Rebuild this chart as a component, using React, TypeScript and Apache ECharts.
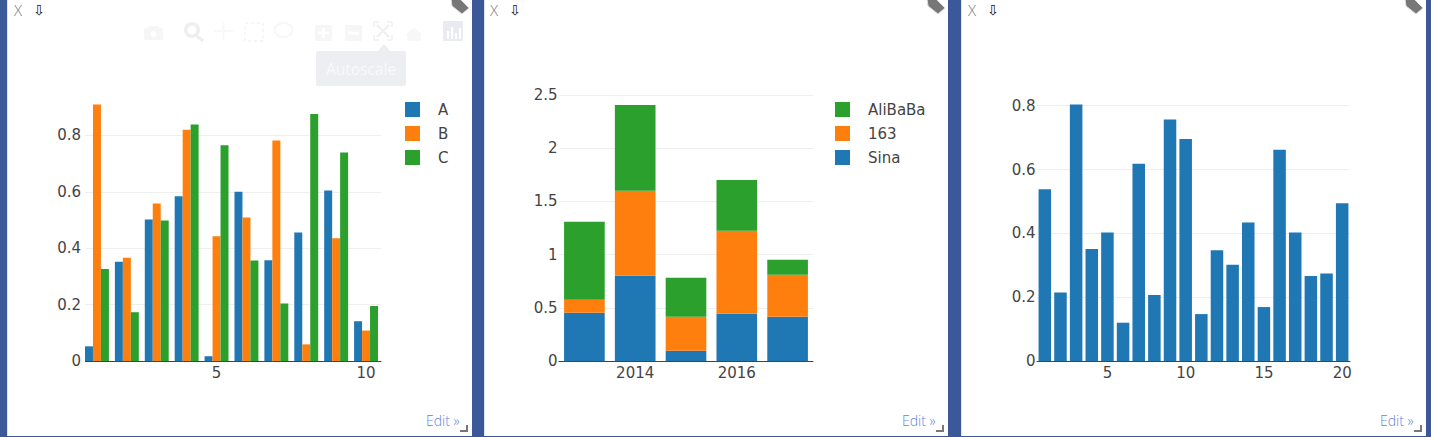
import React, { useEffect, useRef } from "react";
import * as echarts from "echarts";

const COLORS = { blue: "#1f77b4", orange: "#ff7f0e", green: "#2ca02c" };

const groupCategories = ["1", "2", "3", "4", "5", "6", "7", "8", "9", "10"];
const groupTicks = ["5", "10"];
const seriesA = [0.052, 0.352, 0.502, 0.584, 0.017, 0.6, 0.357, 0.456, 0.605, 0.141];
const seriesB = [0.91, 0.366, 0.559, 0.82, 0.442, 0.509, 0.782, 0.059, 0.435, 0.108];
const seriesC = [0.326, 0.173, 0.498, 0.839, 0.765, 0.356, 0.204, 0.876, 0.739, 0.195];

const years = ["2013", "2014", "2015", "2016", "2017"];
const yearTicks = ["2014", "2016"];
const sina = [0.454, 0.8, 0.097, 0.444, 0.416];
const n163 = [0.122, 0.8, 0.319, 0.779, 0.394];
const alibaba = [0.732, 0.806, 0.366, 0.479, 0.141];

const singleCategories = ["1","2","3","4","5","6","7","8","9","10","11","12","13","14","15","16","17","18","19","20"];
const singleTicks = ["5", "10", "15", "20"];
const singleValues = [0.538, 0.215, 0.804, 0.351, 0.403, 0.12, 0.618, 0.207, 0.757, 0.696, 0.147, 0.347, 0.302, 0.434, 0.169, 0.662, 0.403, 0.266, 0.274, 0.494];

const FONT = "'DejaVu Sans', Verdana, sans-serif";
const TICK = "#444";
const STRIP = "#3b5998";
const SIZE = 15;

const xAxis = (i: number, data: string[], ticks: string[]) => ({
  type: "category", gridIndex: i, data,
  axisTick: { show: false },
  axisLine: { show: true, lineStyle: { color: "#444", width: 1 } },
  axisLabel: {
    color: TICK, fontFamily: FONT, fontSize: SIZE, margin: 4,
    interval: (_: number, v: string) => ticks.includes(v),
    hideOverlap: false,
  },
  splitLine: { show: false },
});
const yAxis = (i: number, max: number, interval: number, margin: number) => ({
  type: "value", gridIndex: i, min: 0, max, interval,
  axisLine: { show: false }, axisTick: { show: false },
  axisLabel: { color: TICK, fontFamily: FONT, fontSize: SIZE, margin, showMaxLabel: false, padding: [2, 0, 0, 0] },
  splitLine: { show: true, showMaxLine: false, lineStyle: { color: "#eeeeee", width: 1 } },
});
const bar = (name: string, data: number[], color: string, i: number, extra: object = {}) => ({
  type: "bar", name, data, xAxisIndex: i, yAxisIndex: i,
  barGap: "0%", barCategoryGap: "20%", itemStyle: { color }, ...extra,
});
const legend = (left: number, data: string[]) => ({
  left, top: 102, orient: "vertical", data, icon: "rect", itemWidth: 15, itemHeight: 15, itemGap: 9,
  selectedMode: false, padding: 0,
  textStyle: { color: TICK, fontFamily: FONT, fontSize: SIZE, padding: [0, 0, 0, 13] },
});

echarts.graphic.registerShape("tagIcon", echarts.graphic.extendPath("M0 0L9 0L18 9L11 15L1 7Z", {}) as any);

const decorations = () => {
  const g: any[] = [];
  const rect = (x: number, y: number, width: number, height: number, fill: string, r = 0, z = 0) =>
    g.push({ type: "rect", silent: true, z, shape: { x, y, width, height, r }, style: { fill } });
  const text = (x: number, y: number, t: string, fill: string, font: string, align = "left") =>
    g.push({ type: "text", silent: true, z: 5, x, y, style: { text: t, fill, font, align, verticalAlign: "middle" } });
  const line = (x1: number, y1: number, x2: number, y2: number, stroke: string, lineWidth = 2) =>
    g.push({ type: "line", silent: true, z: 3, shape: { x1, y1, x2, y2 }, style: { stroke, lineWidth } });

  // dividers
  rect(0, 0, 7, 437, STRIP); rect(7, 0, 1, 437, "#dfe4ef");
  rect(472, 0, 12, 437, STRIP); rect(484, 0, 1, 437, "#dfe4ef");
  rect(948, 0, 13, 437, STRIP); rect(961, 0, 1, 437, "#dfe4ef");
  rect(1426, 0, 5, 437, STRIP);
  rect(0, 436, 1431, 1, STRIP);

  // the first plot's lines begin where its first bar begins
  rect(81, 100, 4, 263, "#fff", 0, 10);

  [0, 476, 954].forEach((dx) => {
    text(14 + dx, 10, "X", "#777", "300 15px 'Open Sans', sans-serif");
    text(33 + dx, 10, "⇩", "#111", "14px 'DejaVu Sans', sans-serif");
    g.push({ type: "tagIcon", silent: true, z: 4, x: 451 + dx, y: -1, style: { fill: "#777", stroke: "#ddd", lineWidth: 1 } });
    text(426 + dx, 420, "Edit »", "#5f84e0", "300 14px 'Open Sans', sans-serif");
    rect(466 + dx, 425, 2, 7, "#777"); rect(460 + dx, 430, 8, 2, "#777");
  });

  // faint mode bar of the first panel
  const pale = "#f6f6f6";
  rect(144, 28, 19, 12, pale, 2, 3);
  rect(148, 26, 11, 3, pale, 0, 3);
  g.push({ type: "circle", silent: true, z: 4, shape: { cx: 153.5, cy: 34, r: 3 }, style: { fill: "#fff" } });
  g.push({ type: "ring", silent: true, z: 3, shape: { cx: 192, cy: 30, r: 8, r0: 4.5 }, style: { fill: "#eeeeee" } });
  line(197, 36, 203, 41, "#eeeeee", 3);
  line(214, 31, 233, 31, "#f8f8f8"); line(223.5, 22, 223.5, 41, "#f8f8f8");
  g.push({ type: "rect", silent: true, z: 3, shape: { x: 245, y: 23, width: 18, height: 18 }, style: { fill: "none", stroke: pale, lineWidth: 2, lineDash: [3, 3] } });
  g.push({ type: "ellipse", silent: true, z: 3, shape: { cx: 283.5, cy: 30, rx: 9, ry: 7 }, style: { fill: "none", stroke: "#f7f7f7", lineWidth: 2 } });
  rect(315, 25, 17, 16, pale, 1, 3); line(318, 33, 329, 33, "#fff", 3); line(323.5, 28, 323.5, 38, "#fff", 3);
  rect(345, 25, 17, 16, pale, 1, 3); line(348, 33, 359, 33, "#fff", 3);
  const auto = "#efefef";
  line(377, 25, 389, 37, auto); line(389, 25, 377, 37, auto);
  line(374, 22, 379, 22, auto, 1.5); line(374, 22, 374, 27, auto, 1.5);
  line(387, 22, 392, 22, auto, 1.5); line(392, 22, 392, 27, auto, 1.5);
  line(374, 40, 379, 40, auto, 1.5); line(374, 35, 374, 40, auto, 1.5);
  line(387, 40, 392, 40, auto, 1.5); line(392, 35, 392, 40, auto, 1.5);
  g.push({ type: "polygon", silent: true, z: 3, shape: { points: [[414, 28], [423, 35], [421, 35], [421, 41], [407, 41], [407, 35], [405, 35]] }, style: { fill: "#f7f7f7" } });
  rect(443, 21, 20, 20, "#e9ebf0", 0, 3);
  [447, 451, 455, 459].forEach((x, i) => rect(x, 39 - [8, 12, 6, 11][i], 2, [8, 12, 6, 11][i], "#fff", 0, 4));
  g.push({ type: "polygon", silent: true, z: 3, shape: { points: [[378, 51], [384, 44], [390, 51]] }, style: { fill: "#eceef2" } });
  rect(316, 51, 90, 35, "#eceef2", 2, 3);
  text(361, 69, "Autoscale", "#f8f9fa", "15.5px 'Open Sans', sans-serif", "center");
  return g;
};

export default function App() {
  const ref = useRef<HTMLDivElement>(null);
  useEffect(() => {
    document.body.style.margin = "0";
    const chart = echarts.init(ref.current!, undefined, { renderer: "svg" });
    chart.setOption({
      animation: false,
      backgroundColor: "#fff",
      grid: [
        { left: 82, width: 299, top: 92, height: 269 },
        { left: 559, width: 254, top: 92, height: 269 },
        { left: 1037, width: 313, top: 92, height: 269 },
      ],
      xAxis: [xAxis(0, groupCategories, groupTicks), xAxis(1, years, yearTicks), xAxis(2, singleCategories, singleTicks)],
      yAxis: [yAxis(0, 0.954, 0.2, 1), yAxis(1, 2.528, 0.5, 1.5), yAxis(2, 0.843, 0.2, 1.5)],
      legend: [legend(405, ["A", "B", "C"]), legend(835, ["AliBaBa", "163", "Sina"])],
      series: [
        bar("A", seriesA, COLORS.blue, 0),
        bar("B", seriesB, COLORS.orange, 0),
        bar("C", seriesC, COLORS.green, 0),
        bar("Sina", sina, COLORS.blue, 1, { stack: "s" }),
        bar("163", n163, COLORS.orange, 1, { stack: "s" }),
        bar("AliBaBa", alibaba, COLORS.green, 1, { stack: "s" }),
        bar("trace 0", singleValues, COLORS.blue, 2),
      ],
      graphic: decorations(),
    });
    return () => chart.dispose();
  }, []);
  return <div ref={ref} style={{ position: "absolute", left: 0, top: 0, width: 1431, height: 437 }} />;
}
